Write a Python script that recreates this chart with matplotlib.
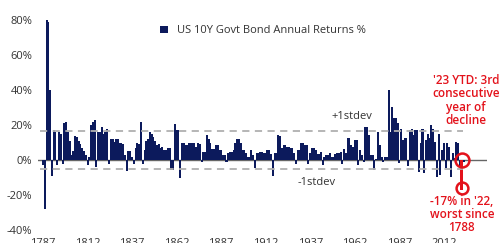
import numpy as np
import matplotlib
matplotlib.use("Agg")
import matplotlib.pyplot as plt

plt.rcParams['font.family'] = ['Open Sans', 'DejaVu Sans']

# US 10Y govt bond annual returns (%), 1787 - 2023 YTD
years = np.arange(1787, 2024)
returns = [
    -3, -28, 80, 79, 40, -9, 17, 16, -3, 16, 15, -2, 21, 22, 16, 11,
    3, 5, 14, 13, 11, 9, 7, 5, 3, -3, 2, 20, 22, 23, -4, 16,
    16, 19, 15, 16, 18, -2.3, 12, 12, 10.5, 12, 12, 9.5, 9.5, 9, 3, -6,
    5, 5, 2, -2, 7, 9.5, 9, 22, -2, 6, 11, 12, 16, 15, 13, 11,
    8.6, 9, 7, 7.6, 6, 6, 7, 6.7, -5.7, -5.5, 20.6, 17, 17, -10, 10, 10,
    8.6, 8.6, 9.5, 9.5, 9.5, 9.5, 7.6, 9.5, 9, -1, 4.8, 4.8, 14.3, 12, 9.5, 6.3,
    6.3, 8.6, 8.6, 5.7, 5.7, 2.9, 2.9, -1, 3.8, 4.8, 4.8, 5.7, 10, 12, 11.8, 9.5,
    5.7, 5.7, 3.8, 2, 2, 5.7, 2.9, -4.8, 3.8, 3.8, 4.8, 4.8, 4.2, 4.2, 5.7, 5.7,
    3.2, -9, 3.8, 3.8, 14.3, 14, 6.7, 8.6, 8.6, 7.6, 7.6, 6.7, 6.7, 3.8, -2, 5.7,
    5.7, 9.5, 9.5, 8.6, 8.6, -2, 3.8, 6.7, 6.7, 5.7, 3.4, 3.4, 4.8, -2.9, 2, 2.9,
    2.9, 3.8, 1.9, 1.9, 3.2, 4.2, 4.2, 4.8, -2, 6.3, 3.8, 12.4, 12.4, 8.6, 7.6, 11.4,
    11.4, -2.9, 5.7, 2.9, -1, 19, 19, 14.3, 2.9, 2.9, -5.7, 0.5, 16, 8.6, 2, -1,
    2, 2, 40, 16, 30.5, 23.8, 24, 21, -1.5, 18, 11.4, 12.4, 12.4, -3.4, 17, 18,
    14.3, 17, 17, -6.7, 9.5, 18, -7.6, 11.4, 15, 12.4, 20, 18, 10.5, -9.5, 15, -8.6,
    5.7, 9.5, -4.8, 9.5, 7.6, -9.5, 3.8, 1, 10.5, 10, -4, -17, -1,
]
plus_sd = 16.5
minus_sd = -5
xticks = [1787, 1812, 1837, 1862, 1887, 1912, 1937, 1962, 1987, 2012]
yticks = [-40, -20, 0, 20, 40, 60, 80]

navy = '#0c1a5c'
red = '#e3121b'
grey_txt = '#333333'

returns = np.array(returns)
hl = years == 2022

fig = plt.figure(figsize=(5, 2.43), dpi=100)
ax = fig.add_axes([0.076, 0.0535, 0.898, 0.864])

ax.axhline(0, color='#666666', lw=1, zorder=1)
ax.bar(years[~hl], returns[~hl], width=1.15, color=navy, linewidth=0, zorder=2,
       label='US 10Y Govt Bond Annual Returns %')
ax.bar(years[hl], returns[hl], width=1.8, color=red, linewidth=0, zorder=3)

for v in (plus_sd, minus_sd):
    ax.hlines(v, 1785.3, 2022.7, colors='#b0b0b0', lw=1.3, linestyles=(0, (4, 3)), zorder=4)
ax.text(1960.4, 24.6, '+1stdev', fontsize=8, color=grey_txt, ha='center', va='center')
ax.text(1940.8, -13.1, '-1stdev', fontsize=8, color=grey_txt, ha='center', va='center')

# red annotation
ax.plot([2022], [0], 'o', mfc='none', mec=red, ms=10, mew=1.8, zorder=5)
ax.plot([2022], [-16], 'o', mfc='none', mec=red, ms=8.5, mew=1.8, zorder=5)
ax.text(2024.5, 34, "'23 YTD: 3rd\nconsecutive\nyear of\ndecline", color=red,
        fontsize=8.5, fontweight='semibold', ha='center', va='center', linespacing=1.05)
ax.text(2022.1, -30.9, "-17% in '22,\nworst since\n1788", color=red,
        fontsize=8.5, fontweight='semibold', ha='center', va='center', linespacing=1.0)

ax.set_xlim(1784.2, 2036.2)
ax.set_ylim(-40, 80)
ax.set_xticks(xticks)
ax.set_yticks(yticks)
ax.set_yticklabels([f'{t}%' for t in yticks])
ax.tick_params(length=0, labelsize=8, colors=grey_txt)
ax.tick_params(axis='x', pad=6)
ax.tick_params(axis='y', pad=4)
for s in ax.spines.values():
    s.set_visible(False)

ax.legend(loc='center left', bbox_to_anchor=(0.272, 0.948), frameon=False,
          handlelength=0.7, handleheight=0.7, handletextpad=0.8, borderpad=0,
          borderaxespad=0, fontsize=8, labelcolor=grey_txt)

fig.savefig('out.png', dpi=100)
